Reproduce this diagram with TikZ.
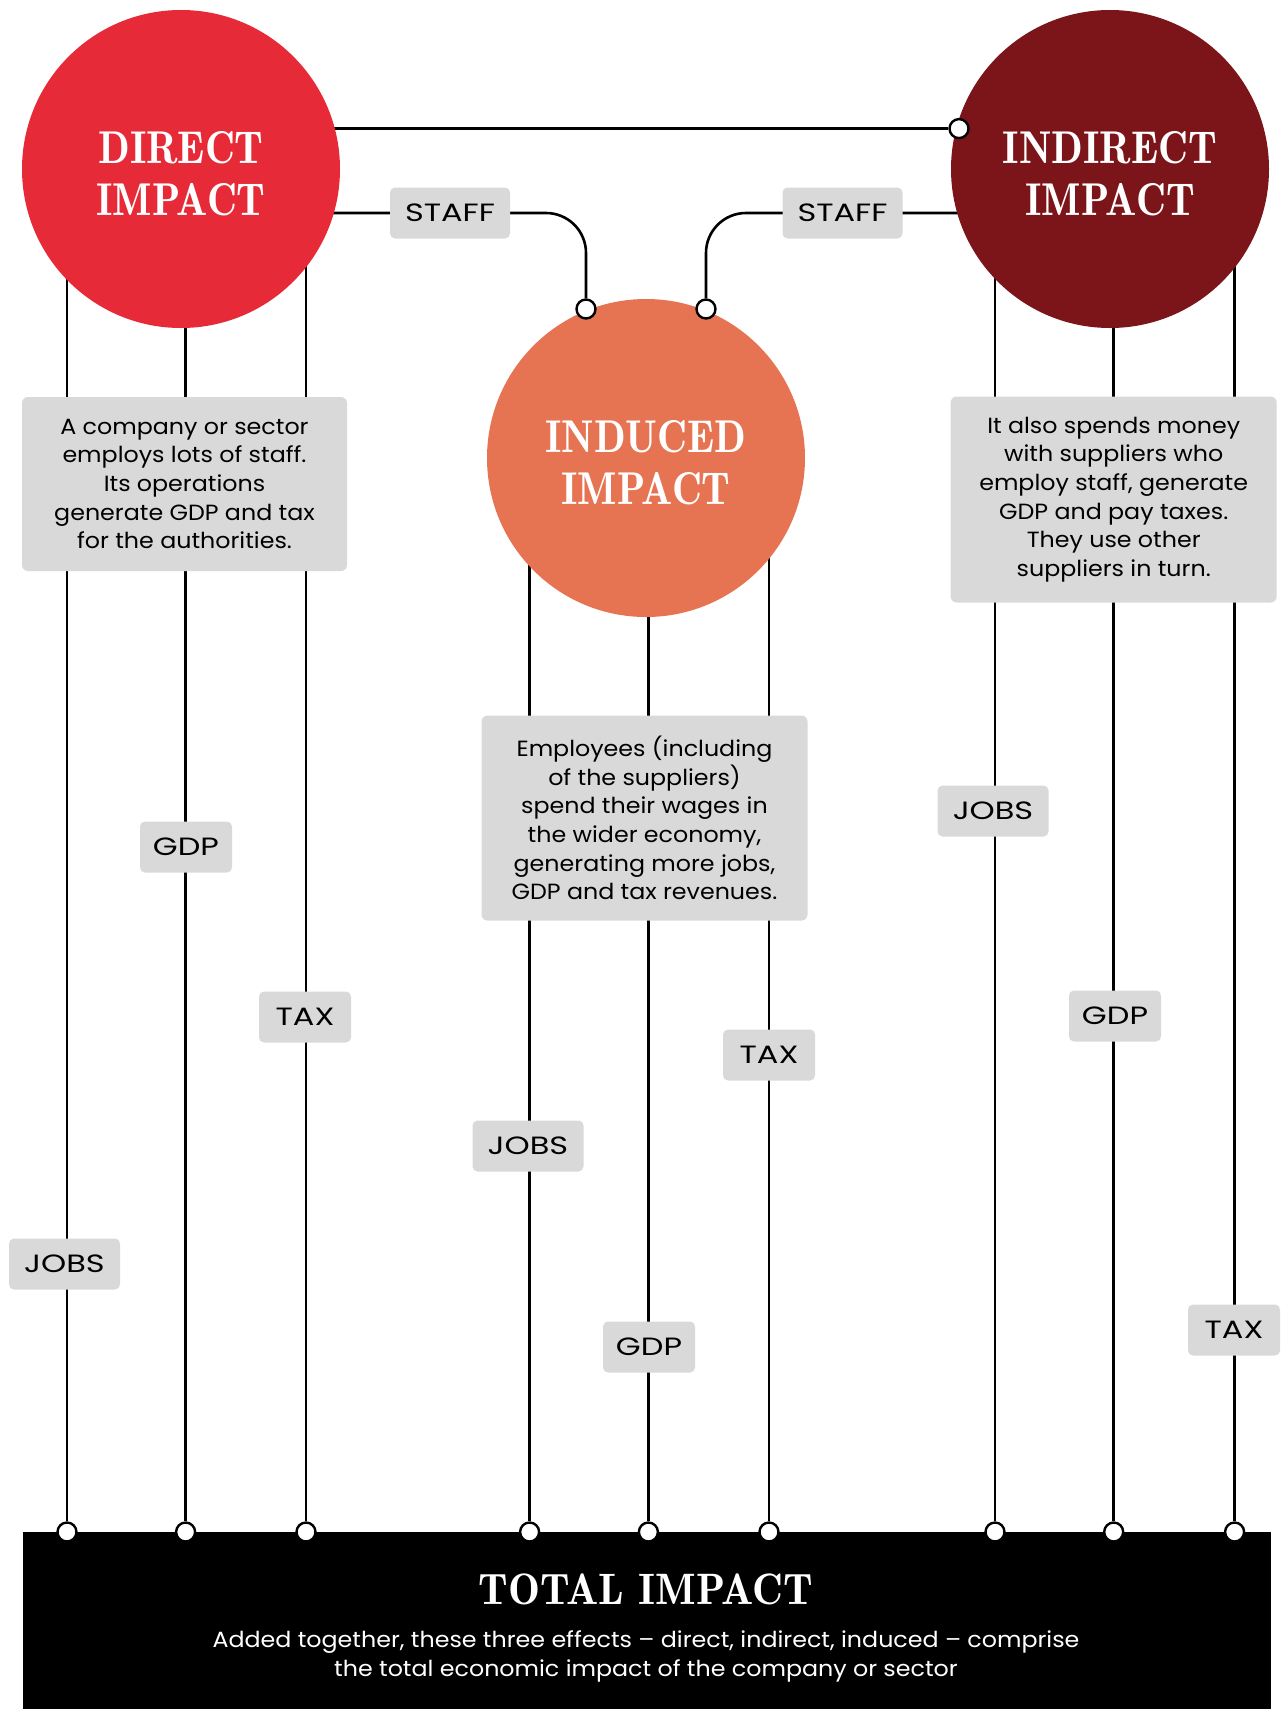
\documentclass[tikz,border=0pt]{standalone}
\usepackage{fontspec}
\usepackage{graphicx}
\newfontfamily\bodyf{Poppins}
\newfontfamily\didone[Extension=.otf]{lmromandemi10-regular}
\definecolor{cdirect}{RGB}{231,42,55}
\definecolor{cindirect}{RGB}{123,21,25}
\definecolor{cinduced}{RGB}{230,116,82}
\definecolor{boxgray}{RGB}{217,217,217}
\newcommand{\cond}[1]{\scalebox{0.9}[1]{#1}}
\newcommand{\descfont}{\bodyf\addfontfeatures{FakeStretch=1.08}\fontsize{22}{28.7}\selectfont}
\newcommand{\labfont}{\bodyf\addfontfeatures{FakeStretch=1.28}\fontsize{25}{30}\selectfont}
\pgfdeclarelayer{bg}
\pgfsetlayers{bg,main}
\begin{document}
\begin{tikzpicture}[x=1pt,y=-1pt,
  conn/.style={line width=2.6pt, draw=black},
  mk/.style={circle, draw=black, fill=white, line width=2.4pt, minimum size=19pt, inner sep=0pt},
  bubble/.style={circle, minimum size=318pt, inner sep=0pt},
  title/.style={text=white, align=center, inner sep=0pt, font=\didone\fontsize{46}{52}\selectfont},
  lab/.style={fill=boxgray, rounded corners=5pt, minimum height=51pt, inner sep=0pt, font=\labfont},
  desc/.style={fill=boxgray, rounded corners=6pt, inner sep=0pt, align=center, font=\descfont}]
\useasboundingbox (0,0) rectangle (1287,1709);
% circles
\node[bubble, fill=cdirect] (direct) at (181,169) {};
\node[bubble, fill=cindirect] (indirect) at (1110,169) {};
\node[bubble, fill=cinduced] (induced) at (646,458) {};
\node[title] (dtitle) at (181,174) {\cond{DIRECT}\\\cond{IMPACT}};
\node[title] (ititle) at (1110,174) {\cond{INDIRECT}\\\cond{IMPACT}};
\node[title] (utitle) at (646,463) {\cond{INDUCED}\\\cond{IMPACT}};
% total box
\node[fill=black, minimum width=1248pt, minimum height=177pt, inner sep=0pt] (total) at (647,1620.5) {};
\node[text=white, inner sep=0pt, font=\didone\fontsize{44}{50}\selectfont] (totalt) at (646,1589) {\scalebox{0.97}[1]{TOTAL IMPACT}};
\node[text=white, align=center, font=\descfont] (totals) at (646,1656.5) {Added together, these three effects – direct, indirect, induced – comprise\\the total economic impact of the company or sector};
% descriptions
\node[desc, minimum width=325pt, minimum height=174pt] (ddesc) at (184.5,484) {A company or sector\\employs lots of staff.\\Its operations\\generate GDP and tax\\for the authorities.};
\node[desc, minimum width=326pt, minimum height=205pt] (udesc) at (644.5,818) {Employees (including\\of the suppliers)\\spend their wages in\\the wider economy,\\generating more jobs,\\GDP and tax revenues.};
\node[desc, minimum width=326pt, minimum height=206pt] (idesc) at (1113.7,499.5) {It also spends money\\with suppliers who\\employ staff, generate\\GDP and pay taxes.\\They use other\\suppliers in turn.};
% staff labels
\node[lab, minimum width=120pt] (staffL) at (450,213) {STAFF};
\node[lab, minimum width=120pt] (staffR) at (842.5,213) {STAFF};
% column labels
\node[lab, minimum width=92pt] (dgdp) at (186,847) {GDP};
\node[lab, minimum width=92pt] (dtax) at (305,1017) {TAX};
\node[lab, minimum width=111pt] (djobs) at (64.5,1264) {JOBS};
\node[lab, minimum width=111pt] (ujobs) at (528,1146) {JOBS};
\node[lab, minimum width=92pt] (ugdp) at (649,1347) {GDP};
\node[lab, minimum width=92pt] (utax) at (769,1055) {TAX};
\node[lab, minimum width=111pt] (ijobs) at (993,811) {JOBS};
\node[lab, minimum width=92pt] (igdp) at (1115,1016) {GDP};
\node[lab, minimum width=92pt] (itax) at (1234,1330) {TAX};
% markers
\node[mk] (mtop) at (959,128.6) {};
\node[mk] (ms1) at (586,309) {};
\node[mk] (ms2) at (706,309) {};
\foreach \n/\x in {d1/67,d2/185.6,d3/306,u1/529.6,u2/648.4,u3/769,i1/995,i2/1113.7,i3/1234.6}{
  \node[mk] (m\n) at (\x,1532) {};
}
\begin{pgfonlayer}{bg}
\draw[conn] (direct.center |- mtop) -- (mtop);
\draw[conn, rounded corners=40pt] (direct.center |- staffL) -- (ms1 |- staffL) -- (ms1);
\draw[conn, rounded corners=40pt] (indirect.center |- staffR) -- (ms2 |- staffR) -- (ms2);
\foreach \n in {d1,d2,d3}{\draw[conn] (m\n) -- (m\n |- direct.center);}
\foreach \n in {u1,u2,u3}{\draw[conn] (m\n) -- (m\n |- induced.center);}
\foreach \n in {i1,i2,i3}{\draw[conn] (m\n) -- (m\n |- indirect.center);}
\end{pgfonlayer}
\end{tikzpicture}
\end{document}
